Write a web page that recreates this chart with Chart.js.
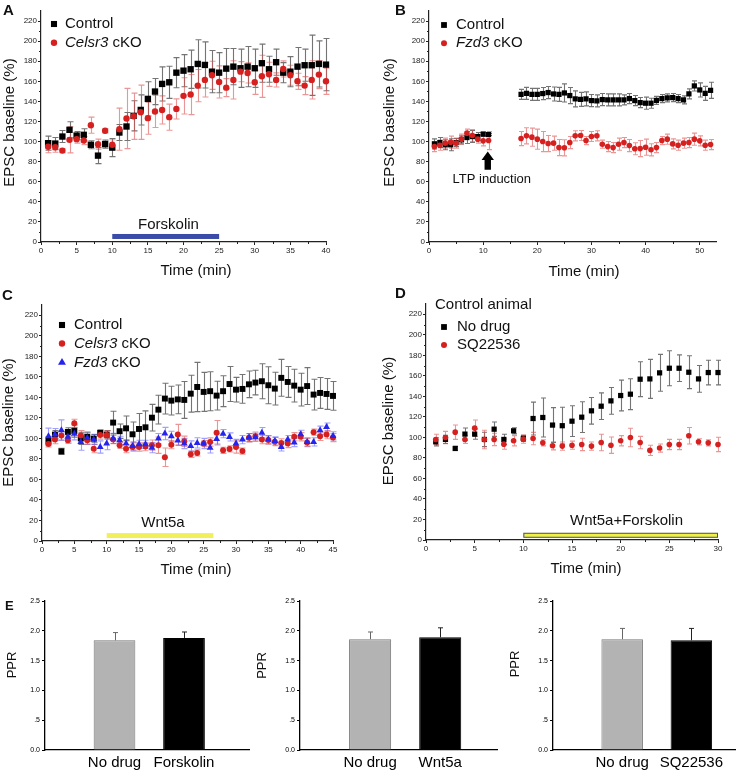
<!DOCTYPE html>
<html><head><meta charset="utf-8">
<script src="https://cdn.jsdelivr.net/npm/chart.js@4.4.1/dist/chart.umd.min.js"></script>
<style>
html,body{margin:0;padding:0;background:#fff;overflow:hidden}
body{position:relative;width:736px;height:774px}
canvas{position:absolute;display:block}
</style></head>
<body>
<canvas id="pA"></canvas><canvas id="pB"></canvas><canvas id="pC"></canvas><canvas id="pD"></canvas>
<canvas id="pE1"></canvas><canvas id="pE2"></canvas><canvas id="pE3"></canvas>
<script>
// ================= DATA =================
// Panel A
const timeA = [1,2,3,4,5,6,7,8,9,10,11,12,13,14,15,16,17,18,19,20,21,22,23,24,25,26,27,28,29,30,31,32,33,34,35,36,37,38,39,40];
const aControl = [98.4,98,105,111.7,106,106.7,96.8,86,97.4,94,109,115,125.6,131.5,142.5,149.8,157.4,159,168.6,170.6,172,177.3,176.3,169.6,168.6,172.6,174.6,173,174.6,173,178,172,179,168.6,169.6,174.6,176,176,177.3,176.6];
const aControlErr = [7,6,6,8,4,6,4,8,4,9,8,14,15,15,17,13,17,16,15,16,19,24,23,21,20,20,18,19,20,19,19,13,13,10,15,19,16,30,23,26];
const aCelsr3 = [94.8,94.4,91,101.7,102.4,101,116.3,97.4,110.7,96.8,112.3,123,125.2,129.2,123.3,130,131.5,124.3,132.5,145.5,146.8,155.7,161.4,166,159.4,153.7,161.4,169.6,168.3,159,165,167,161.4,172.3,166,160,155.7,161.4,166.7,160];
const aCelsr3Err = [6,5,2,13,4,4,8,5,2,5,21,30,23,27,16,16,14,13,10,18,20,16,17,14,16,9,19,10,10,12,21,12,7,8,10,8,9,19,14,13];
const drugWindowA = [10, 25];
const drugLabelA = 'Forskolin';

// Panel B
const timeB = [1,2,3,4,5,6,7,8,9,10,11,17,18,19,20,21,22,23,24,25,26,27,28,29,30,31,32,33,34,35,36,37,38,39,40,41,42,43,44,45,46,47,48,49,50,51,52];
const bControl = [97.7,99,96.8,96.8,99,101.7,104,105,105,107.4,107,147,148,147,147,147.8,148.8,147.4,147,148.4,145.8,142.5,142,142.5,140.8,140.5,141.8,141.5,141.5,141.5,141.5,142.8,140.8,138.8,138.2,138.2,141,142.8,143.5,143.8,142.8,141.5,147.5,155.4,151.4,148,151];
const bControlErr = [5,5,5,6,4,4,6,6,4,2,1,5,6,6,6,6,6,7,7,9,8,8,7,7,6,6,6,6,6,6,5,5,5,5,6,5,4,4,4,4,4,4,5,5,7,7,8];
const bFzd3 = [95,96.4,98.4,99.4,98.4,102.4,108.4,106,102.4,100.7,101,103,105.7,104.4,102.4,100,98,98.4,94,93.8,99,105.7,106,101,105,105.7,97.4,95,94,97.4,99,96,92.8,93,94.4,91.8,94,101,102.4,97.7,96.4,98.4,99,102.4,100.7,96.4,97];
const bFzd3Err = [5,5,5,6,5,5,4,6,4,5,9,7,8,9,10,10,8,7,8,8,6,5,5,4,5,5,4,5,5,6,5,6,6,8,8,6,5,4,5,5,5,5,5,6,5,5,5];
const ltpTime = 10.85;
const ltpLabel = 'LTP induction';

// Panel C
const timeC = [1,2,3,4,5,6,7,8,9,10,11,12,13,14,15,16,17,18,19,20,21,22,23,24,25,26,27,28,29,30,31,32,33,34,35,36,37,38,39,40,41,42,43,44,45];
const cControl = [97.5,103.7,87.4,106.3,107.2,100,101.4,99.8,105.3,103.7,115.4,107,109.8,104,109.2,110.8,120.2,128,138.8,136.8,138,137.5,143.6,150.1,145.3,146,141.7,146,153,147.5,148.2,152.7,154.4,155.7,151.8,148.5,159,155,151.4,147.5,151,142.7,144.3,143.3,141.4];
const cControlErr = [4,4,3,4,6,6,4,4,3,4,11,7,12,12,15,16,13,14,15,14,14,18,18,24,19,19,14,15,17,12,14,13,12,17,18,16,18,15,16,16,18,15,15,15,14];
const cCelsr3 = [94.6,98.8,102.7,98.1,114.7,102.7,98.1,90,103.3,103.3,98.8,93.3,90,91.6,91.6,92,93.4,93.4,81.6,93.9,103.7,97.2,84.5,85.8,95,96.5,105.5,88.4,89.7,91.6,87.7,100.6,102.2,98.8,98.4,96.8,95.6,95,101.6,101.6,96,106,102,103.7,100.8];
const cCelsr3Err = [3,4,4,3,4,5,4,4,4,4,4,3,4,4,4,4,5,8,9,4,10,5,3,3,3,4,12,3,3,6,3,4,4,4,4,4,4,4,4,4,4,3,4,4,4];
const cFzd3 = [102,103.7,108,101.5,104.6,96.5,100.4,99,91.6,94.9,100,98.1,94.9,92.6,94.2,94.2,91,99.8,104.7,102,98,95,92.6,95.6,95,90.8,99.5,104.6,101.4,95,98.8,100.8,101,105.6,98.8,97.5,91.7,98.8,96,104,96.6,96.6,108,111,102.4];
const cFzd3Err = [8,6,10,5,6,8,6,5,6,6,5,4,4,4,4,4,5,5,6,5,5,5,5,5,5,5,5,4,4,4,4,4,4,5,4,4,4,4,4,4,4,4,4,4,4];
const drugWindowC = [10, 26.5];
const drugLabelC = 'Wnt5a';

// Panel D
const timeD = [1,2,3,4,5,6,7,8,9,10,11,12,13,14,15,16,17,18,19,20,21,22,23,24,25,26,27,28,29,30];
const dNoDrug = [95.7,98,89.2,103.2,103.2,98,108,98,106.4,99,118.4,119.4,112,111.4,115.8,119.7,125.9,130.4,135.6,140.8,142.1,156.7,157,162.9,167.4,167.4,163.5,157,163.2,163.2];
const dNoDrugErr = [4,4,2,6,5,7,7,5,3,3,16,19,17,18,15,15,13,13,13,15,15,17,19,18,17,13,16,13,12,12];
const dSQ = [98,99.9,105.1,98,109,98,98,93.4,96.7,98.3,98.9,94.7,91.8,91.5,92.4,93.1,91.5,95,92.4,96.7,99.9,95,87.3,89.6,93.1,93.1,101.6,95.7,94.7,93.1];
const dSQErr = [5,6,7,4,8,9,6,5,5,4,6,3,4,4,4,6,4,8,8,5,9,6,5,4,5,5,8,3,3,7];
const drugWindowD = [10, 30];
const drugLabelD = 'Wnt5a+Forskolin';

// Panel E (PPR)
const ePos = [1, 2];
const eCats1 = ['No drug', 'Forskolin'];
const ePPR1 = [1.84, 1.88];
const ePPR1Err = [0.13, 0.10];
const eCats2 = ['No drug', 'Wnt5a'];
const ePPR2 = [1.86, 1.89];
const ePPR2Err = [0.12, 0.16];
const eCats3 = ['No drug', 'SQ22536'];
const ePPR3 = [1.86, 1.84];
const ePPR3Err = [0.18, 0.20];
const eTickLabels = ['0.0', '.5', '1.0', '1.5', '2.0', '2.5'];

// ================= STYLE =================
const FONT = "'Liberation Sans', Arial, Helvetica, sans-serif";
Chart.defaults.font.family = FONT;
const RED = '#d62020', BLUE = '#2424ee', BLACK = '#000000';
const ERR_BLACK = 'rgba(70,70,70,0.75)', ERR_RED = 'rgba(222,80,80,0.6)', ERR_BLUE = 'rgba(80,80,250,0.55)';
const AXIS = '#222';
const DECOR = {};

function fnt(size, weight, style) { return (style || 'normal') + ' ' + (weight || 'normal') + ' ' + size + 'px ' + FONT; }
function pts(xs, ys) { return xs.map((x, i) => ({ x: x, y: ys[i] })); }

function drawMarker(ctx, style, x, y, r, color) {
  ctx.save(); ctx.fillStyle = color; ctx.beginPath();
  if (style === 'rect') { const s = Math.SQRT1_2 * r; ctx.rect(x - s, y - s, 2 * s, 2 * s); }
  else if (style === 'triangle') {
    ctx.moveTo(x, y - r); ctx.lineTo(x + 0.866 * r, y + 0.5 * r); ctx.lineTo(x - 0.866 * r, y + 0.5 * r); ctx.closePath();
  } else { ctx.arc(x, y, r, 0, Math.PI * 2); }
  ctx.fill(); ctx.restore();
}

function drawErrors(chart, barPass) {
  const ctx = chart.ctx;
  chart.data.datasets.forEach((ds, di) => {
    if (!ds.errors) return;
    const isBar = chart.config.type === 'bar';
    if (isBar !== barPass) return;
    const meta = chart.getDatasetMeta(di);
    const xs = chart.scales[meta.xAxisID], ys = chart.scales[meta.yAxisID];
    ctx.save();
    ctx.lineWidth = ds.errWidth || 1;
    ds.data.forEach((p, i) => {
      const e = ds.errors[i]; if (e == null) return;
      const x = Math.round(xs.getPixelForValue(p.x)) + 0.5;
      const yTop = ys.getPixelForValue(p.y + e);
      const yBot = ds.errUpOnly ? ys.getPixelForValue(p.y) : ys.getPixelForValue(p.y - e);
      ctx.strokeStyle = Array.isArray(ds.errColor) ? ds.errColor[i] : ds.errColor;
      const c = ds.errCap;
      ctx.beginPath();
      ctx.moveTo(x, yTop); ctx.lineTo(x, yBot);
      ctx.moveTo(x - c, yTop); ctx.lineTo(x + c, yTop);
      if (!ds.errUpOnly) { ctx.moveTo(x - c, yBot); ctx.lineTo(x + c, yBot); }
      ctx.stroke();
    });
    ctx.restore();
  });
}

function text(ctx, s, x, y, o) {
  o = o || {};
  ctx.save();
  ctx.font = fnt(o.size || 15, o.weight, o.style);
  ctx.fillStyle = o.color || '#111';
  ctx.textAlign = o.align || 'center';
  ctx.textBaseline = o.base || 'middle';
  if (o.rot) { ctx.translate(x, y); ctx.rotate(o.rot); ctx.fillText(s, 0, 0); }
  else ctx.fillText(s, x, y);
  ctx.restore();
}

const decorPlugin = {
  id: 'decor',
  beforeDatasetsDraw(chart) { drawErrors(chart, false); },
  afterDatasetsDraw(chart) { drawErrors(chart, true); },
  afterDraw(chart) {
    const d = DECOR[chart.canvas.id]; if (!d) return;
    const ctx = chart.ctx, ox = d.ox, oy = d.oy;
    const xs = chart.scales.x, ys = chart.scales.y;
    ctx.save();
    if (d.minor) {
      ctx.strokeStyle = AXIS; ctx.lineWidth = 1;
      const mt = (scale, horiz) => {
        const t = scale.ticks;
        for (let i = 0; i < t.length - 1; i++) {
          const v = (t[i].value + t[i + 1].value) / 2;
          const p = Math.round(scale.getPixelForValue(v)) + 0.5;
          ctx.beginPath();
          if (horiz) { ctx.moveTo(p, scale.top); ctx.lineTo(p, scale.top + 2); }
          else { ctx.moveTo(scale.right, p); ctx.lineTo(scale.right - 2, p); }
          ctx.stroke();
        }
      };
      mt(xs, true); mt(ys, false);
    }
    (d.drugs || []).forEach(b => {
      const x1 = xs.getPixelForValue(b.win[0]), x2 = xs.getPixelForValue(b.win[1]), yc = ys.getPixelForValue(b.yv);
      ctx.fillStyle = b.fill; ctx.fillRect(x1, yc - b.h / 2, x2 - x1, b.h);
      if (b.stroke) { ctx.strokeStyle = b.stroke; ctx.lineWidth = 1; ctx.strokeRect(x1 + 0.5, yc - b.h / 2 + 0.5, x2 - x1 - 1, b.h - 1); }
      if (b.label) text(ctx, b.label, xs.getPixelForValue(b.lx), ys.getPixelForValue(b.ly), { size: 15 });
    });
    if (d.arrow) {
      const a = d.arrow;
      const x = xs.getPixelForValue(a.xv), yb = ys.getPixelForValue(a.from), yh = ys.getPixelForValue(a.headBase), yt = ys.getPixelForValue(a.to);
      ctx.fillStyle = '#000'; ctx.beginPath();
      ctx.moveTo(x - a.sw, yb); ctx.lineTo(x - a.sw, yh); ctx.lineTo(x - a.hw, yh); ctx.lineTo(x, yt);
      ctx.lineTo(x + a.hw, yh); ctx.lineTo(x + a.sw, yh); ctx.lineTo(x + a.sw, yb); ctx.closePath(); ctx.fill();
      if (a.label) text(ctx, a.label, xs.getPixelForValue(a.lx), ys.getPixelForValue(a.ly), { size: 13 });
    }
    if (d.legend) {
      const L = d.legend;
      L.items.forEach((di, i) => {
        const ds = chart.data.datasets[di];
        const y = L.rows[i] - oy;
        drawMarker(ctx, ds.pointStyle, L.mx - ox, y, L.r[i], ds.pointBackgroundColor);
        let x = L.tx - ox;
        ds.label.split('*').forEach((seg, k) => {
          if (!seg) return;
          ctx.font = fnt(15, 'normal', k % 2 ? 'italic' : 'normal');
          ctx.fillStyle = '#111'; ctx.textAlign = 'left'; ctx.textBaseline = 'middle';
          ctx.fillText(seg, x, y); x += ctx.measureText(seg).width;
        });
      });
    }
    (d.texts || []).forEach(t => text(ctx, t.t, t.x - ox, t.y - oy, t));
    ctx.restore();
  }
};
Chart.register(decorPlugin);

function build(id, box, area, type, datasets, scales, deco) {
  const cv = document.getElementById(id);
  cv.width = box.w; cv.height = box.h;
  cv.style.left = box.x + 'px'; cv.style.top = box.y + 'px';
  cv.style.width = box.w + 'px'; cv.style.height = box.h + 'px';
  const W = area.l - box.x, T = area.t - box.y, R = box.x + box.w - area.r, H = box.y + box.h - area.b;
  scales.x.afterFit = s => { s.height = H; };
  scales.y.afterFit = s => { s.width = W; };
  DECOR[id] = Object.assign({ ox: box.x, oy: box.y }, deco);
  new Chart(cv, {
    type: type,
    data: { datasets: datasets },
    options: {
      responsive: false, animation: false, devicePixelRatio: 1, events: [],
      layout: { padding: { left: 0, top: T, right: R, bottom: 0 } },
      scales: scales,
      plugins: { legend: { display: false }, tooltip: { enabled: false } }
    }
  });
}

function scatterScales(xmax, xstep, ymax) {
  const mk = (min, max, step) => ({
    type: 'linear', min: min, max: max,
    ticks: { stepSize: step, includeBounds: false, autoSkip: false, maxRotation: 0, font: { size: 8 }, color: '#222', padding: 1 },
    grid: { drawOnChartArea: false, drawTicks: true, tickLength: 3, color: AXIS, lineWidth: 1 },
    border: { display: true, color: AXIS, width: 1.2 }
  });
  const x = mk(0, xmax, xstep); x.position = 'bottom';
  const y = mk(0, ymax, 20); y.position = 'left';
  return { x: x, y: y };
}

function series(label, xs, ys, errs, style, r, color, errColor, cap, order) {
  return { label: label, data: pts(xs, ys), errors: errs, pointStyle: style, pointRadius: r,
    pointBackgroundColor: color, pointBorderColor: color, pointBorderWidth: 0, backgroundColor: color, borderColor: color,
    errColor: errColor, errCap: cap, errWidth: 1.1, order: order, clip: false, showLine: false };
}

// ---------- Panel A ----------
build('pA', { x: 0, y: 0, w: 368, h: 288 }, { l: 41, t: 11, r: 326, b: 242 }, 'scatter', [
  series('Control', timeA, aControl, aControlErr, 'rect', 4.5, BLACK, ERR_BLACK, 3, 2),
  series('*Celsr3* cKO', timeA, aCelsr3, aCelsr3Err, 'circle', 3.2, RED, ERR_RED, 3, 1)
], scatterScales(40, 5, 230), {
  minor: true,
  legend: { mx: 54, tx: 65, rows: [24, 42.7], items: [0, 1], r: [4.3, 3.2] },
  drugs: [{ win: drugWindowA, yv: 5.5, h: 5, fill: '#3a4ca8', label: drugLabelA, lx: 17.9, ly: 16.9 }],
  texts: [
    { t: 'A', x: 3, y: 15, size: 15, weight: 'bold', align: 'left', base: 'alphabetic' },
    { t: 'EPSC baseline (%)', x: 10, y: 122.5, rot: -Math.PI / 2 },
    { t: 'Time (min)', x: 196, y: 271 }
  ]
});

// ---------- Panel B ----------
build('pB', { x: 368, y: 0, w: 368, h: 288 }, { l: 429, t: 11, r: 716, b: 242 }, 'scatter', [
  series('Control', timeB, bControl, bControlErr, 'rect', 3.7, BLACK, ERR_BLACK, 2.5, 2),
  series('*Fzd3* cKO', timeB, bFzd3, bFzd3Err, 'circle', 2.8, RED, ERR_RED, 2.5, 1)
], scatterScales(53, 10, 230), {
  minor: true,
  legend: { mx: 444, tx: 456, rows: [25, 43.3], items: [0, 1], r: [4.1, 3.0] },
  arrow: { xv: ltpTime, from: 72, headBase: 81.6, to: 90, sw: 3.2, hw: 6.2, label: ltpLabel, lx: 11.6, ly: 62.4 },
  texts: [
    { t: 'B', x: 395, y: 15, size: 15, weight: 'bold', align: 'left', base: 'alphabetic' },
    { t: 'EPSC baseline (%)', x: 389.5, y: 122.5, rot: -Math.PI / 2 },
    { t: 'Time (min)', x: 584, y: 272 }
  ]
});

// ---------- Panel C ----------
build('pC', { x: 0, y: 288, w: 368, h: 300 }, { l: 42, t: 305, r: 333, b: 541 }, 'scatter', [
  series('Control', timeC, cControl, cControlErr, 'rect', 4.2, BLACK, ERR_BLACK, 3, 2),
  series('*Celsr3* cKO', timeC, cCelsr3, cCelsr3Err, 'circle', 3, RED, ERR_RED, 3, 1),
  series('*Fzd3* cKO', timeC, cFzd3, cFzd3Err, 'triangle', 4, BLUE, ERR_BLUE, 3, 0)
], scatterScales(45, 5, 230), {
  minor: true,
  legend: { mx: 62, tx: 74, rows: [325, 343.5, 362.5], items: [0, 1, 2], r: [4.3, 3.2, 4.6] },
  drugs: [{ win: drugWindowC, yv: 5.3, h: 5, fill: '#f2f05a', label: drugLabelC, lx: 18.7, ly: 17.7 }],
  texts: [
    { t: 'C', x: 2, y: 300, size: 15, weight: 'bold', align: 'left', base: 'alphabetic' },
    { t: 'EPSC baseline (%)', x: 9, y: 422.5, rot: -Math.PI / 2 },
    { t: 'Time (min)', x: 196, y: 570 }
  ]
});

// ---------- Panel D ----------
build('pD', { x: 368, y: 288, w: 368, h: 300 }, { l: 426, t: 304, r: 718, b: 540 }, 'scatter', [
  series('No drug', timeD, dNoDrug, dNoDrugErr, 'rect', 3.7, BLACK, ERR_BLACK, 2.5, 2),
  series('SQ22536', timeD, dSQ, dSQErr, 'circle', 2.8, RED, ERR_RED, 2.5, 1)
], scatterScales(30, 5, 230), {
  minor: true,
  legend: { mx: 444, tx: 457, rows: [327, 345], items: [0, 1], r: [4.1, 3.0] },
  drugs: [{ win: drugWindowD, yv: 4.6, h: 5, fill: '#f2f040', stroke: '#3a4ca8', label: drugLabelD, lx: 20.6, ly: 18.5 }],
  texts: [
    { t: 'D', x: 395, y: 298, size: 15, weight: 'bold', align: 'left', base: 'alphabetic' },
    { t: 'Control animal', x: 435, y: 309, align: 'left', base: 'alphabetic' },
    { t: 'EPSC baseline (%)', x: 389, y: 421, rot: -Math.PI / 2 },
    { t: 'Time (min)', x: 586, y: 568.5 }
  ]
});

// ---------- Panel E ----------
function barScales(cats, xmax) {
  return {
    x: { type: 'linear', position: 'bottom', min: 0, max: xmax, offset: false,
      afterBuildTicks: s => { s.ticks = ePos.map(v => ({ value: v })); },
      ticks: { autoSkip: false, maxRotation: 0, font: { size: 15 }, color: '#000', padding: 4,
        callback: v => { const k = ePos.indexOf(v); return k >= 0 ? cats[k] : ''; } },
      grid: { display: true, drawOnChartArea: false, drawTicks: false, offset: false },
      border: { display: true, color: '#000', width: 1.3 } },
    y: { type: 'linear', position: 'left', min: 0, max: 2.5,
      ticks: { stepSize: 0.5, includeBounds: false, autoSkip: false, font: { size: 7 }, color: '#000', padding: 2,
        callback: (v, i) => eTickLabels[i] },
      grid: { drawOnChartArea: false, drawTicks: true, tickLength: 3, color: '#000' },
      border: { display: true, color: '#000', width: 1.3 } }
  };
}
function barSet(vals, errs) {
  return [{ data: pts(ePos, vals), errors: errs, errUpOnly: true, errCap: 2.5, errWidth: 1,
    errColor: ['#666666', '#222222'],
    backgroundColor: ['#b3b3b3', '#000000'], borderColor: ['#777777', '#000000'], borderWidth: 1,
    barPercentage: 0.6, categoryPercentage: 1 }];
}
build('pE1', { x: 0, y: 590, w: 258, h: 184 }, { l: 45, t: 601, r: 249, b: 750 }, 'bar',
  barSet(ePPR1, ePPR1Err), barScales(eCats1, 2.935), {
  texts: [
    { t: 'E', x: 5, y: 610, size: 13, weight: 'bold', align: 'left', base: 'alphabetic' },
    { t: 'PPR', x: 12, y: 665, size: 13, rot: -Math.PI / 2 }
  ]
});
build('pE2', { x: 245, y: 590, w: 263, h: 184 }, { l: 300, t: 601, r: 497, b: 750 }, 'bar',
  barSet(ePPR2, ePPR2Err), barScales(eCats2, 2.81), {
  texts: [ { t: 'PPR', x: 262, y: 665.5, size: 13, rot: -Math.PI / 2 } ]
});
build('pE3', { x: 495, y: 590, w: 263, h: 184 }, { l: 553, t: 601, r: 746, b: 750 }, 'bar',
  barSet(ePPR3, ePPR3Err), barScales(eCats3, 2.79), {
  texts: [ { t: 'PPR', x: 515, y: 664, size: 13, rot: -Math.PI / 2 } ]
});
</script>
</body></html>
